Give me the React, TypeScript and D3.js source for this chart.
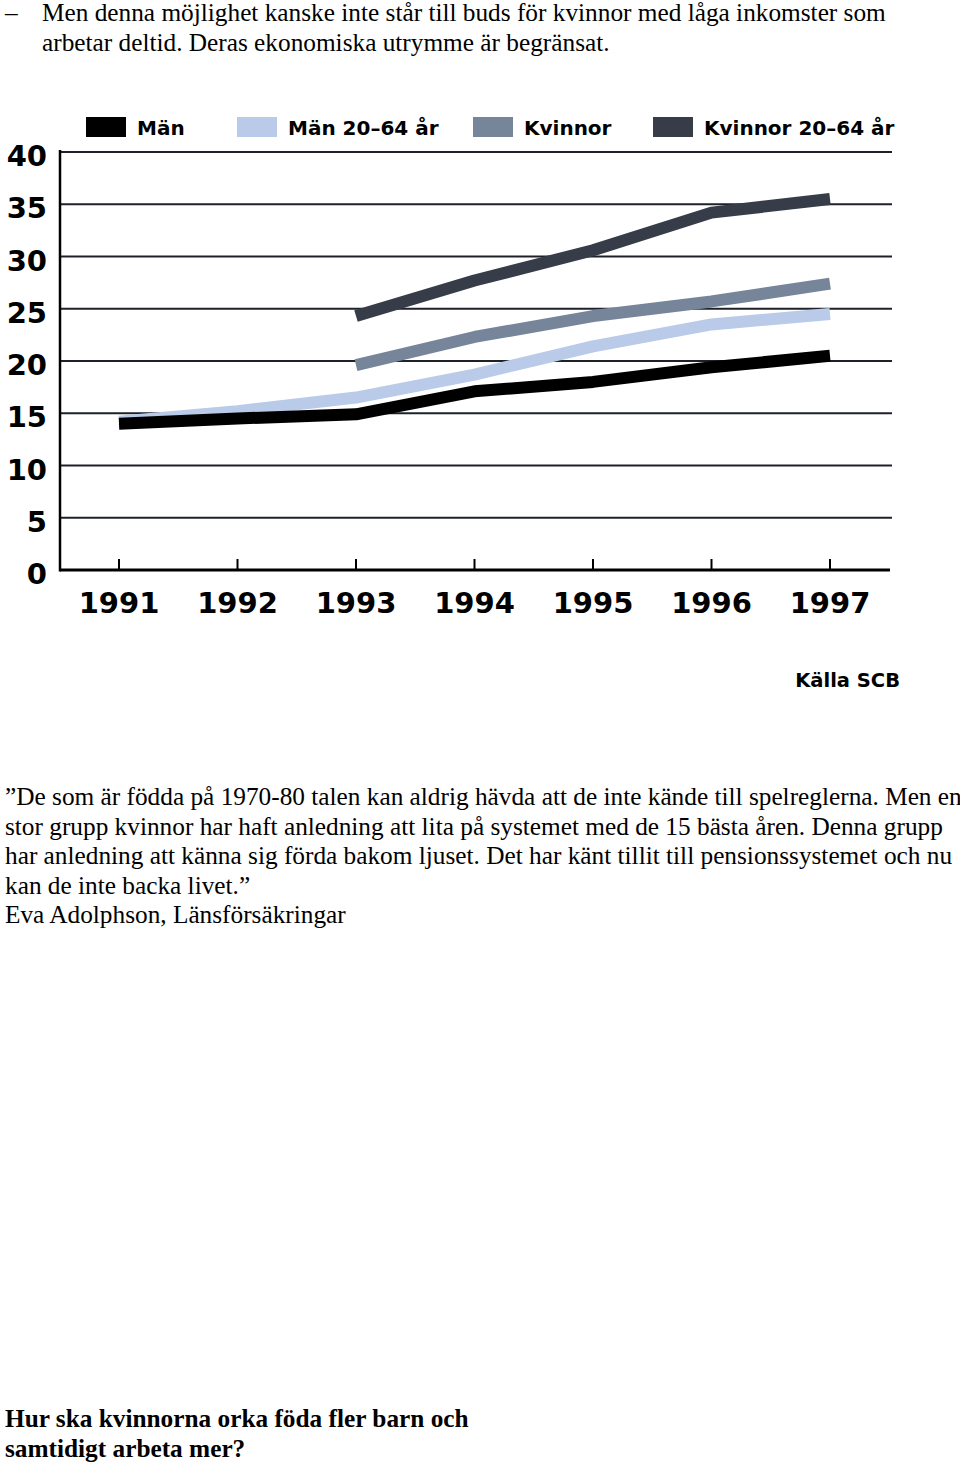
import React from "react";
import * as d3 from "d3";

const years = [1991, 1992, 1993, 1994, 1995, 1996, 1997];
const yTicks = [0, 5, 10, 15, 20, 25, 30, 35, 40];

const manValues = [14.0, 14.5, 14.9, 17.1, 18.0, 19.4, 20.5];
const man2064Values = [14.2, 15.2, 16.5, 18.7, 21.4, 23.5, 24.5];
const kvinnorValues = [null, null, 19.6, 22.3, 24.3, 25.7, 27.4];
const kvinnor2064Values = [null, null, 24.3, 27.7, 30.6, 34.2, 35.5];

const seriesNames = ["Män", "Män 20–64 år", "Kvinnor", "Kvinnor 20–64 år"];
const seriesColors = ["#000000", "#b9cbe9", "#76859a", "#363c48"];

const topLines = [
  "Men denna möjlighet kanske inte står till buds för kvinnor med låga inkomster som",
  "arbetar deltid. Deras ekonomiska utrymme är begränsat.",
];
const quoteLines = [
  "”De som är födda på 1970-80 talen kan aldrig hävda att de inte kände till spelreglerna. Men en",
  "stor grupp kvinnor har haft anledning att lita på systemet med de 15 bästa åren. Denna grupp",
  "har anledning att känna sig förda bakom ljuset. Det har känt tillit till pensionssystemet och nu",
  "kan de inte backa livet.”",
  "Eva Adolphson, Länsförsäkringar",
];
const headingLines = ["Hur ska kvinnorna orka föda fler barn och", "samtidigt arbeta mer?"];
const sourceText = "Källa SCB";

export default function App() {
  const W = 960;
  const H = 1462;
  const x = d3.scaleLinear().domain([1991, 1997]).range([119, 830]);
  const y = d3.scaleLinear().domain([0, 40]).range([570, 152]);
  const axisLeft = 60;
  const gridRight = 892;

  const allSeries = [manValues, man2064Values, kvinnorValues, kvinnor2064Values];
  const drawOrder = [1, 0, 2, 3];

  const line = d3
    .line<{ yr: number; v: number | null }>()
    .defined((d) => d.v !== null)
    .x((d) => x(d.yr))
    .y((d) => y(d.v as number));

  const serif = "'Liberation Serif', 'Times New Roman', serif";
  const sans = "'DejaVu Sans', sans-serif";
  const fs = 25.3;

  const legendX = [86, 237, 473, 653];

  return (
    <svg
      width={W}
      height={H}
      style={{ position: "absolute", left: 0, top: 0, background: "#fff" }}
    >
      <rect x={0} y={0} width={W} height={H} fill="#fff" />
      {/* top text */}
      <text x={5} y={21} fontFamily={serif} fontSize={fs} fill="#000">–</text>
      {topLines.map((t, i) => (
        <text key={i} x={42} y={21 + i * 29.5} fontFamily={serif} fontSize={fs} fill="#000">
          {t}
        </text>
      ))}

      {/* legend */}
      {seriesNames.map((n, i) => (
        <g key={n}>
          <rect x={legendX[i]} y={117} width={40} height={20} fill={seriesColors[i]} />
          <text
            x={legendX[i] + 51}
            y={135}
            fontFamily={sans}
            fontWeight="bold"
            fontSize={20}
            fill="#000"
          >
            {n}
          </text>
        </g>
      ))}

      {/* grid */}
      {yTicks.map((t) => (
        <g key={t}>
          {t > 0 && (
            <line
              x1={axisLeft}
              x2={gridRight}
              y1={y(t)}
              y2={y(t)}
              stroke="#1e2228"
              strokeWidth={2.2}
            />
          )}
          <text
            x={47}
            y={y(t) + 14}
            textAnchor="end"
            fontFamily={sans}
            fontWeight="bold"
            fontSize={29}
            fill="#000"
          >
            {t}
          </text>
        </g>
      ))}
      {/* axes */}
      <line x1={axisLeft} x2={axisLeft} y1={150} y2={571.5} stroke="#000" strokeWidth={2.5} />
      <line x1={axisLeft} x2={890} y1={570} y2={570} stroke="#000" strokeWidth={2.8} />
      {years.map((yr) => (
        <g key={yr}>
          <line x1={x(yr)} x2={x(yr)} y1={570} y2={559} stroke="#000" strokeWidth={2} />
          <text
            x={x(yr)}
            y={613}
            textAnchor="middle"
            fontFamily={sans}
            fontWeight="bold"
            fontSize={29}
            fill="#000"
          >
            {yr}
          </text>
        </g>
      ))}

      {/* series */}
      {drawOrder.map((si) => {
        const data = years.map((yr, j) => ({ yr, v: allSeries[si][j] }));
        return (
          <path
            key={si}
            d={line(data) || ""}
            fill="none"
            stroke={seriesColors[si]}
            strokeWidth={12}
            strokeLinejoin="round"
            strokeLinecap="butt"
          />
        );
      })}

      <text x={900} y={687} textAnchor="end" fontFamily={sans} fontWeight="bold" fontSize={19.5} fill="#000">
        {sourceText}
      </text>

      {/* quote */}
      {quoteLines.map((t, i) => (
        <text key={i} x={5} y={805 + i * 29.5} fontFamily={serif} fontSize={fs} fill="#000">
          {t}
        </text>
      ))}

      {/* heading */}
      {headingLines.map((t, i) => (
        <text
          key={i}
          x={5}
          y={1427 + i * 29.5}
          fontFamily={serif}
          fontWeight="bold"
          fontSize={fs}
          fill="#000"
        >
          {t}
        </text>
      ))}
    </svg>
  );
}
